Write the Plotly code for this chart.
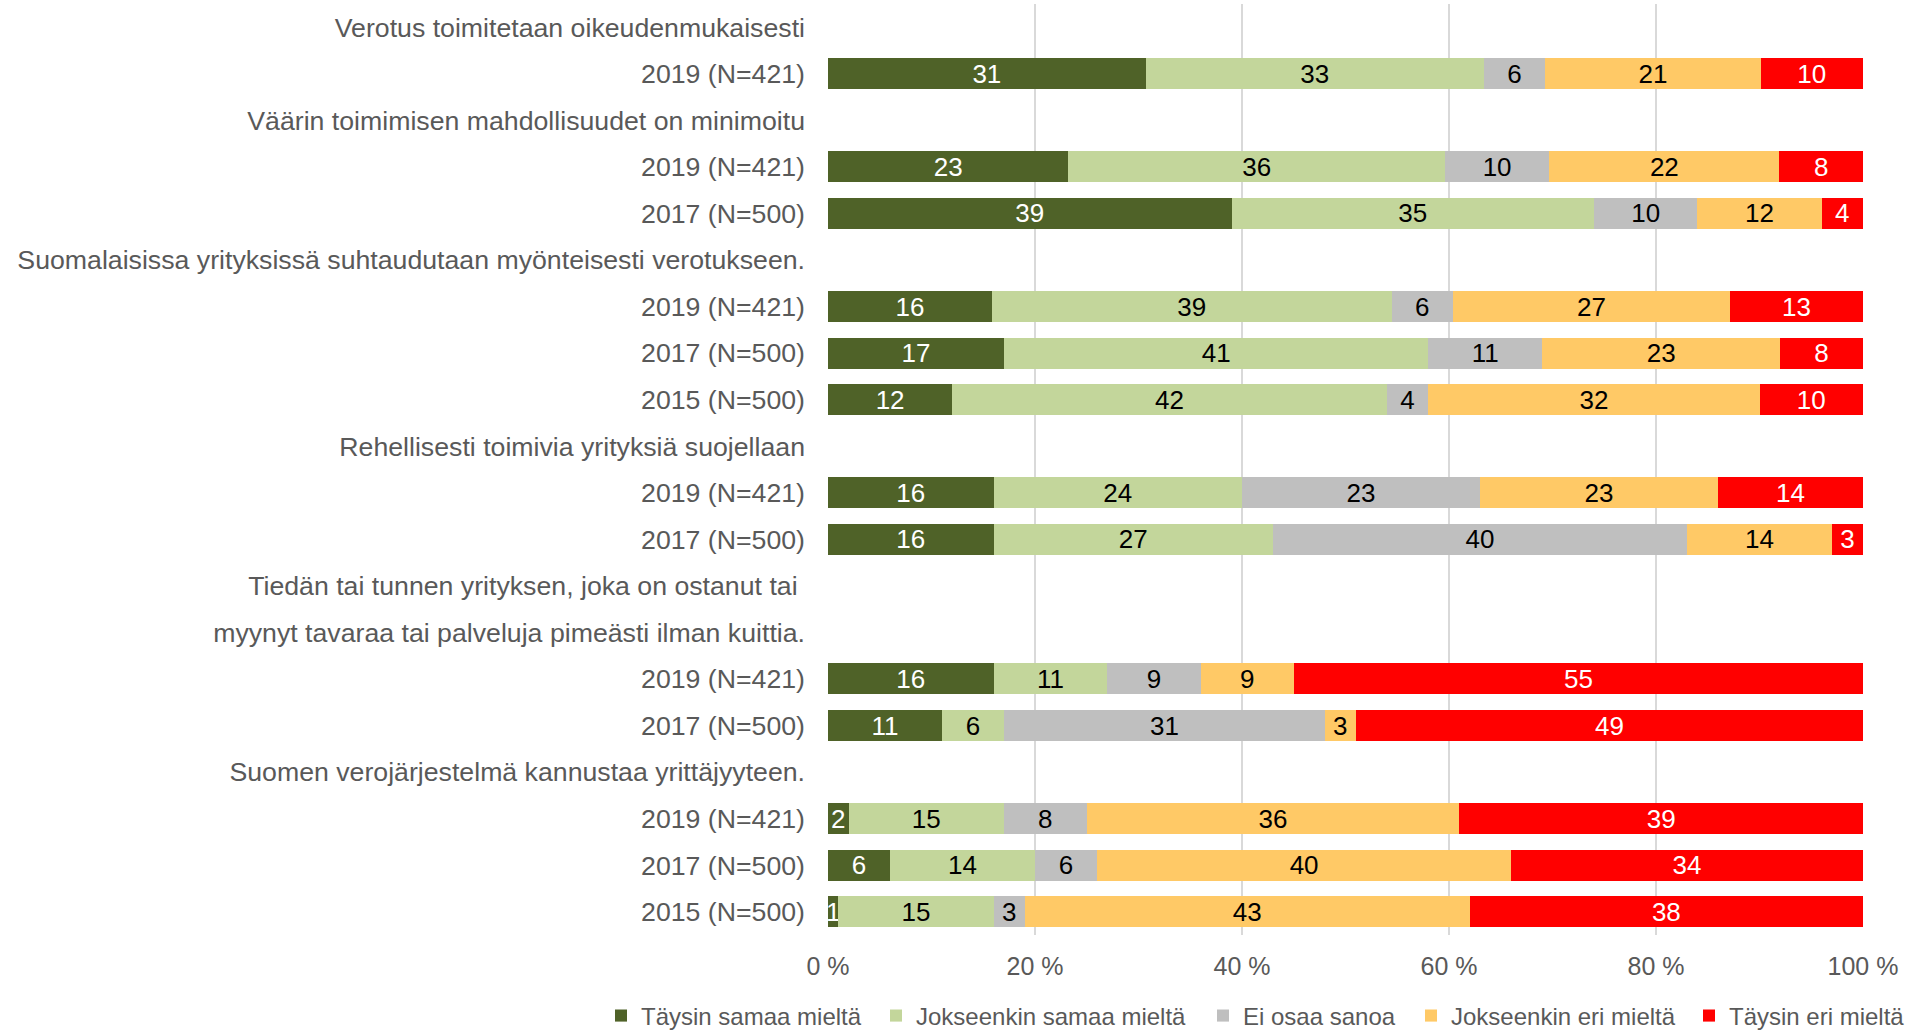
import plotly.graph_objects as go

categories = [
    "Verotus toimitetaan oikeudenmukaisesti",
    "2019 (N=421)",
    "Väärin toimimisen mahdollisuudet on minimoitu",
    "2019 (N=421)",
    "2017 (N=500)",
    "Suomalaisissa yrityksissä suhtaudutaan myönteisesti verotukseen.",
    "2019 (N=421)",
    "2017 (N=500)",
    "2015 (N=500)",
    "Rehellisesti toimivia yrityksiä suojellaan",
    "2019 (N=421)",
    "2017 (N=500)",
    "Tiedän tai tunnen yrityksen, joka on ostanut tai ",
    "myynyt tavaraa tai palveluja pimeästi ilman kuittia.",
    "2019 (N=421)",
    "2017 (N=500)",
    "Suomen verojärjestelmä kannustaa yrittäjyyteen.",
    "2019 (N=421)",
    "2017 (N=500)",
    "2015 (N=500)",
]

series_names = [
    "Täysin samaa mieltä",
    "Jokseenkin samaa mieltä",
    "Ei osaa sanoa",
    "Jokseenkin eri mieltä",
    "Täysin eri mieltä",
]

taysin_samaa = [None, 31, None, 23, 39, None, 16, 17, 12, None, 16, 16, None, None, 16, 11, None, 2, 6, 1]
jokseenkin_samaa = [None, 33, None, 36, 35, None, 39, 41, 42, None, 24, 27, None, None, 11, 6, None, 15, 14, 15]
ei_osaa = [None, 6, None, 10, 10, None, 6, 11, 4, None, 23, 40, None, None, 9, 31, None, 8, 6, 3]
jokseenkin_eri = [None, 21, None, 22, 12, None, 27, 23, 32, None, 23, 14, None, None, 9, 3, None, 36, 40, 43]
taysin_eri = [None, 10, None, 8, 4, None, 13, 8, 10, None, 14, 3, None, None, 55, 49, None, 39, 34, 38]

x_ticks = [0, 20, 40, 60, 80, 100]
x_tick_labels = ["0 %", "20 %", "40 %", "60 %", "80 %", "100 %"]

series_values = [taysin_samaa, jokseenkin_samaa, ei_osaa, jokseenkin_eri, taysin_eri]
colors = ["#4F6228", "#C3D69B", "#BFBFBF", "#FFC966", "#FF0000"]
text_colors = ["#FFFFFF", "#000000", "#000000", "#000000", "#FFFFFF"]

FONT = "Liberation Sans, Arial, sans-serif"
positions = list(range(len(categories)))

W, H = 1913, 1030
ML, MR, MT, MB = 828, 50, 4, 95
plot_w = W - ML - MR
plot_h = H - MT - MB

# pixel x where each legend entry's text starts (page coordinates)
legend_text_start = [641, 916, 1243, 1451, 1729]
legend_y_center = 1016

fig = go.Figure()
for i, (name, vals, col, tcol) in enumerate(zip(series_names, series_values, colors, text_colors)):
    fig.add_trace(go.Bar(
        y=positions,
        x=vals,
        name=name,
        orientation="h",
        marker=dict(color=col, line=dict(width=0)),
        text=[("" if v is None else str(v)) for v in vals],
        textposition="inside",
        insidetextanchor="middle",
        textangle=0,
        textfont=dict(color=tcol, size=26, family=FONT),
        width=0.666,
        hoverinfo="x+name",
        legend="legend" if i == 0 else f"legend{i + 1}",
    ))

legend_layouts = {}
for i in range(len(series_names)):
    key = "legend" if i == 0 else f"legend{i + 1}"
    legend_layouts[key] = dict(
        orientation="h",
        x=(legend_text_start[i] - 40 - ML) / plot_w,
        xanchor="left",
        y=-(legend_y_center - (H - MB)) / plot_h,
        yanchor="middle",
        font=dict(size=24, color="#595959", family=FONT),
        bgcolor="rgba(0,0,0,0)",
        borderwidth=0,
        itemwidth=30,
    )

fig.update_layout(
    barmode="stack",
    barnorm="percent",
    width=W,
    height=H,
    margin=dict(l=ML, r=MR, t=MT, b=MB, autoexpand=False),
    paper_bgcolor="white",
    plot_bgcolor="white",
    font=dict(family=FONT, size=25, color="#595959"),
    uniformtext=dict(minsize=26, mode="show"),
    showlegend=True,
    xaxis=dict(
        range=[0, 100],
        tickvals=x_ticks,
        ticktext=x_tick_labels,
        showgrid=True,
        gridcolor="#D9D9D9",
        gridwidth=2,
        zeroline=False,
        showline=False,
        ticks="",
        ticklabelstandoff=14,
        tickfont=dict(size=25, color="#595959", family=FONT),
        fixedrange=True,
    ),
    yaxis=dict(
        tickvals=positions,
        ticktext=categories,
        range=[len(categories) - 0.5, -0.5],
        showgrid=False,
        zeroline=False,
        showline=False,
        ticks="",
        ticklabelstandoff=22,
        tickfont=dict(size=26.7, color="#595959", family=FONT),
        fixedrange=True,
    ),
    **legend_layouts,
)

fig.write_html(
    "out.html",
    config={"displayModeBar": False},
    post_script="document.body.style.margin='0';",
)
